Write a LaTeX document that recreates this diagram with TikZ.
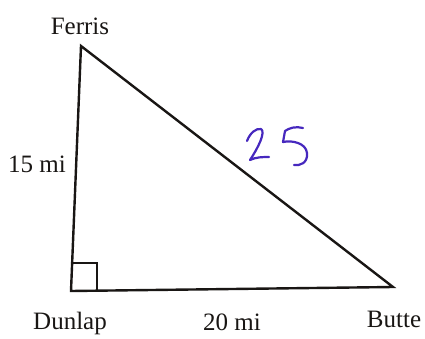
\documentclass[tikz,border=0pt]{standalone}
\usepackage{fontspec}
\setmainfont{Liberation Serif}
\usepackage{xcolor}
\usepackage{tikz}
\definecolor{penink}{RGB}{70,40,190}
\definecolor{printink}{RGB}{25,22,20}

\tikzset{
    town/.style={anchor=base, inner sep=0pt, text=printink, font=\fontsize{25}{30}\selectfont},
    side/.style={draw=printink, line width=2.4pt, line join=miter},
    handwriting/.style={draw=penink, line width=2.2pt, line cap=round, line join=round}
}

\begin{document}
\begin{tikzpicture}[x=1pt, y=1pt]
        \useasboundingbox (0,0) rectangle (425,338);
        % corners of the triangle
        \coordinate (ferris) at (81,292);
        \coordinate (dunlap) at (71,47);
        \coordinate (butte) at (393,51);

        \draw[side] (ferris) -- (dunlap) -- (butte) -- cycle;
        \draw[side, line width=2pt] (72,75) -- (97,75) -- (97,47);

        % labels
        \node[town] (ferrislabel) at (80,303) {Ferris};
        \node[town] (dunlaplabel) at (70,9) {Dunlap};
        \node[town] (buttelabel) at (394,11) {Butte};
        \node[town] (north) at (37,166) {15 mi};
        \node[town] (east) at (232,8) {20 mi};

        % the 25 written in by hand
        \draw[handwriting] (247,197) .. controls (250,205) and (256,210) .. (261,209)
            .. controls (266,206) and (258,190) .. (250,178)
            .. controls (256,181) and (263,181) .. (269,181);
        \draw[handwriting] (303,210) .. controls (296,212) and (289,210) .. (285,207)
            -- (283,196) .. controls (292,198) and (306,195) .. (307,185)
            .. controls (308,175) and (300,172) .. (294,173);
    \end{tikzpicture}
\end{document}
